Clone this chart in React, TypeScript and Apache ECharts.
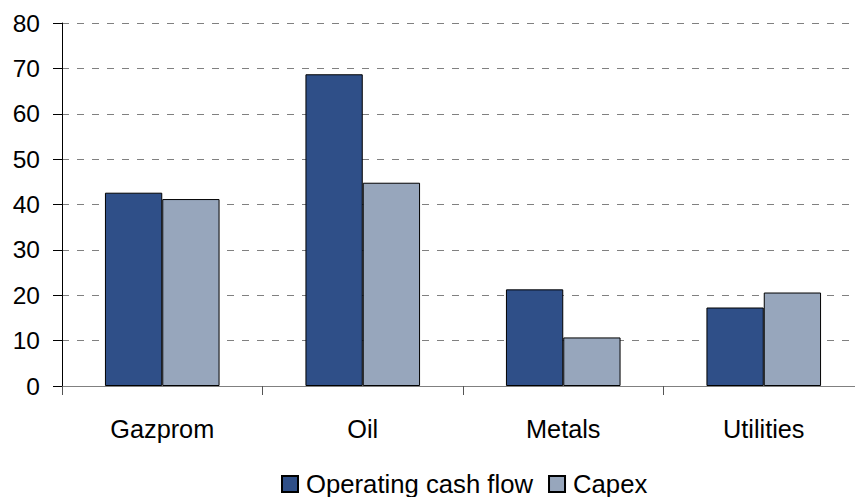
import React, { useEffect, useRef } from "react";
import * as echarts from "echarts";

const categories = ["Gazprom", "Oil", "Metals", "Utilities"];
const operatingCashFlow = [42.6, 68.7, 21.3, 17.3];
const capex = [41.2, 44.8, 10.7, 20.6];
const yTicks = { min: 0, max: 80, interval: 10 };

const FONT = "Liberation Sans, Arial, sans-serif";

export default function App() {
  const ref = useRef<HTMLDivElement>(null);
  useEffect(() => {
    if (!ref.current) return;
    const chart = echarts.init(ref.current, null, { renderer: "svg" });
    chart.setOption({
      animation: false,
      textStyle: { fontFamily: FONT, color: "#000" },
      grid: { left: 62, top: 23, width: 802, height: 363, containLabel: false },
      legend: {
        data: ["Operating cash flow", "Capex"],
        left: 281,
        top: 471,
        padding: 0,
        icon: "rect",
        itemWidth: 16,
        itemHeight: 16,
        itemGap: 15,
        textStyle: { fontFamily: FONT, fontSize: 25.7, color: "#000", padding: [0, 0, 0, 3], lineHeight: 26 },
      },
      xAxis: {
        type: "category",
        data: categories,
        axisLine: { show: true, lineStyle: { color: "#808080", width: 1 } },
        axisTick: { show: true, length: 9, lineStyle: { color: "#555" } },
        axisLabel: { fontFamily: FONT, fontSize: 25.3, color: "#000", margin: 30 },
        splitLine: { show: false },
      },
      yAxis: {
        type: "value",
        min: yTicks.min,
        max: yTicks.max,
        interval: yTicks.interval,
        axisLine: { show: true, lineStyle: { color: "#000", width: 1 } },
        axisTick: { show: true, length: 9, lineStyle: { color: "#000" } },
        axisLabel: { fontFamily: FONT, fontSize: 24.5, color: "#000", margin: 22 },
        splitLine: { show: true, lineStyle: { color: "#808080", type: [7, 8], width: 1 } },
      },
      series: [
        {
          name: "Operating cash flow",
          type: "bar",
          data: operatingCashFlow,
          barWidth: 57.3,
          barGap: "0%",
          itemStyle: { color: "#2F4F88", borderColor: "#000", borderWidth: 1 },
        },
        {
          name: "Capex",
          type: "bar",
          data: capex,
          barWidth: 57.3,
          barGap: "0%",
          itemStyle: { color: "#97A6BC", borderColor: "#000", borderWidth: 1 },
        },
      ],
    });
    return () => chart.dispose();
  }, []);
  return (
    <div style={{ position: "absolute", left: 0, top: 0, width: 855, height: 497, overflow: "hidden" }}>
      <div ref={ref} style={{ width: 880, height: 497 }} />
    </div>
  );
}
